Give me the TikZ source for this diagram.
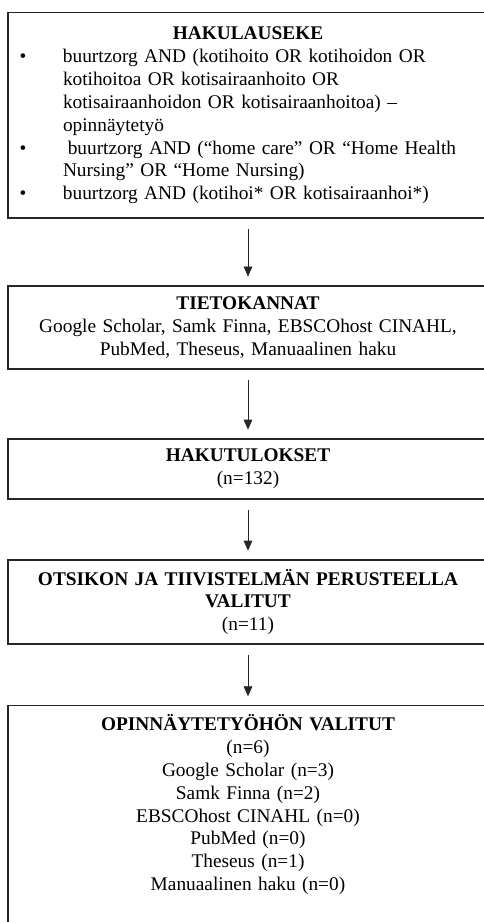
\documentclass[tikz,border=0pt]{standalone}
\usepackage{fontspec}
\setmainfont{Liberation Serif}
\usetikzlibrary{positioning,arrows.meta}
\tikzstyle{box} = [draw=black!85,line width=1.1pt,minimum width=360pt,text width=360pt,inner xsep=0pt,inner ysep=0pt,align=center,font=\fontsize{14.5pt}{17.2pt}\selectfont]
\tikzstyle{arrow} = [line width=0.6pt,black!85,-{Triangle[length=7.5pt,width=6.5pt]},shorten <=8pt,shorten >=6.5pt]
\newcommand{\bul}{\makebox[41.25pt][l]{\hspace*{8.75pt}\textbullet}}
\newcommand{\ind}{\hspace*{41.25pt}}

\begin{document}
\begin{tikzpicture}
\useasboundingbox (0,0) rectangle (362.25pt,-691.5pt);

\node[box,align=left,minimum height=154pt] (hakulauseke) at (186pt,-86.5pt)
{\makebox[\linewidth]{\bfseries HAKULAUSEKE}\\
\bul buurtzorg AND (kotihoito OR kotihoidon OR\\
\ind kotihoitoa OR kotisairaanhoito OR\\
\ind kotisairaanhoidon OR kotisairaanhoitoa) –\\
\ind opinnäytetyö\\
\bul\hspace*{3.6pt}buurtzorg AND (“home care” OR “Home Health\\
\ind Nursing” OR “Home Nursing)\\
\bul buurtzorg AND (kotihoi* OR kotisairaanhoi*)};

\node[box,minimum height=62.25pt] (tietokannat) at (186pt,-245.6pt)
{\textbf{TIETOKANNAT}\\
Google Scholar, Samk Finna, EBSCOhost CINAHL,\\
PubMed, Theseus, Manuaalinen haku};

\node[box,minimum height=45pt] (hakutulokset) at (186pt,-351.75pt)
{\textbf{HAKUTULOKSET}\\ (n=132)};

\node[box,minimum height=63pt] (valitut) at (186pt,-451.5pt)
{\textbf{OTSIKON JA TIIVISTELMÄN PERUSTEELLA}\\
\textbf{VALITUT}\\ (n=11)};

\node[box,anchor=north,text height=18.4pt,text depth=165pt] (opinnaytetyo) at (186pt,-528.75pt)
{\textbf{OPINNÄYTETYÖHÖN VALITUT}\\
(n=6)\\
Google Scholar (n=3)\\
Samk Finna (n=2)\\
EBSCOhost CINAHL (n=0)\\
PubMed (n=0)\\
Theseus (n=1)\\
Manuaalinen haku (n=0)};

\draw [arrow] (hakulauseke.south) -- (tietokannat.north);
\draw [arrow] (tietokannat.south) -- (hakutulokset.north);
\draw [arrow] (hakutulokset.south) -- (valitut.north);
\draw [arrow] (valitut.south) -- (opinnaytetyo.north);
\end{tikzpicture}
\end{document}
